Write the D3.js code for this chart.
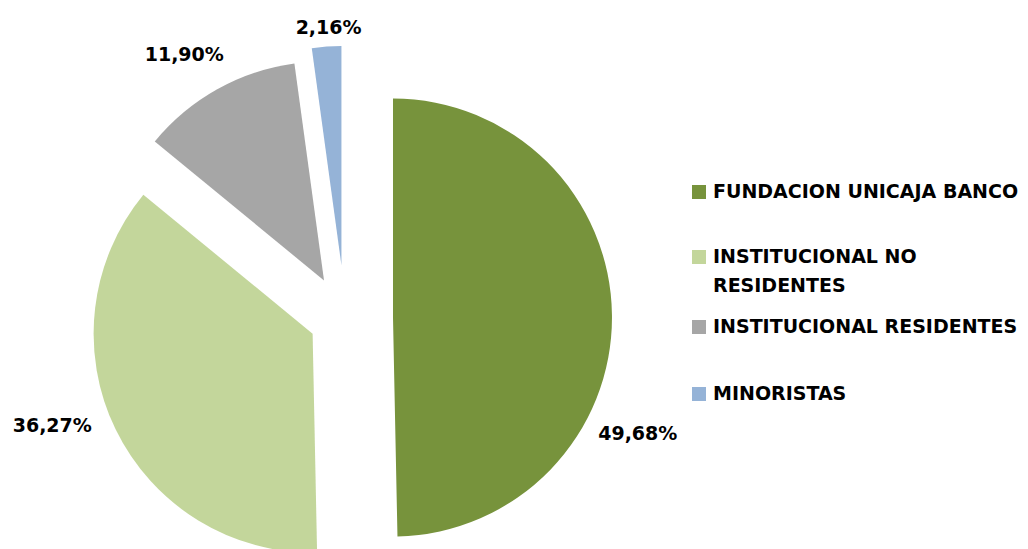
<!DOCTYPE html>
<html>
<head>
<meta charset="utf-8">
<script src="https://cdn.jsdelivr.net/npm/d3@7/dist/d3.min.js"></script>
<style>
  body { margin: 0; background: #fff; }
  text { font-family: "DejaVu Sans", sans-serif; font-weight: bold; fill: #000; }
</style>
</head>
<body>
<script>
var width = 1028,
    height = 549;

// data
var categories = ['FUNDACION UNICAJA BANCO', 'INSTITUCIONAL NO RESIDENTES', 'INSTITUCIONAL RESIDENTES', 'MINORISTAS'];
var values = [49.68, 36.27, 11.90, 2.16];
var labels = ['49,68%', '36,27%', '11,90%', '2,16%'];
var colors = ['#77933C', '#C3D69B', '#A6A6A6', '#95B3D7'];

// layout
var cx = 345, cy = 318, radius = 219;
var explode = [48, 36, 43, 53];        // separación de cada porción
var labelShift = [26, 6.5, -2.5, 0.8];  // giro de la etiqueta (grados)
var labelDist = [271, 276, 266, 238];

var svg = d3.select('body').append('svg').attr('width', width).attr('height', height);

var pie = d3.pie().sort(null).value(function (d) { return d; });
var arcs = pie(values);
var arc = d3.arc().innerRadius(0).outerRadius(radius);

function dir(a) {
    return [Math.sin(a), -Math.cos(a)];
}

var slices = svg.append('g').selectAll('g')
    .data(arcs)
    .enter()
    .append('g')
    .attr('transform', function (d, i) {
        var m = dir((d.startAngle + d.endAngle) / 2);
        d.ox = cx + m[0] * explode[i];
        d.oy = cy + m[1] * explode[i];
        return 'translate(' + d.ox + ',' + d.oy + ')';
    });

slices.append('path')
    .attr('d', arc)
    .style('fill', function (d, i) { return colors[i]; });

// etiquetas
svg.append('g').selectAll('text')
    .data(arcs)
    .enter()
    .append('text')
    .attr('x', function (d, i) {
        var a = (d.startAngle + d.endAngle) / 2 + labelShift[i] * Math.PI / 180;
        return d.ox + dir(a)[0] * labelDist[i];
    })
    .attr('y', function (d, i) {
        var a = (d.startAngle + d.endAngle) / 2 + labelShift[i] * Math.PI / 180;
        return d.oy + dir(a)[1] * labelDist[i];
    })
    .attr('dy', '0.35em')
    .attr('text-anchor', 'middle')
    .style('font-size', '19px')
    .text(function (d, i) { return labels[i]; });

// leyenda
var legendLines = [['FUNDACION UNICAJA BANCO'], ['INSTITUCIONAL NO', 'RESIDENTES'], ['INSTITUCIONAL RESIDENTES'], ['MINORISTAS']];
var legendBase = [198, 263, 333, 400];

var legend = svg.append('g').selectAll('g')
    .data(categories)
    .enter()
    .append('g')
    .attr('transform', function (d, i) { return 'translate(692,' + legendBase[i] + ')'; });

legend.append('rect')
    .attr('x', 0).attr('y', -13)
    .attr('width', 14).attr('height', 14)
    .style('fill', function (d, i) { return colors[i]; });

legend.append('text')
    .attr('x', 21)
    .style('font-size', '19px')
    .selectAll('tspan')
    .data(function (d, i) { return legendLines[i]; })
    .enter()
    .append('tspan')
    .attr('x', 21)
    .attr('dy', function (d, j) { return j == 0 ? 0 : 29; })
    .text(function (d) { return d; });
</script>
</body>
</html>
